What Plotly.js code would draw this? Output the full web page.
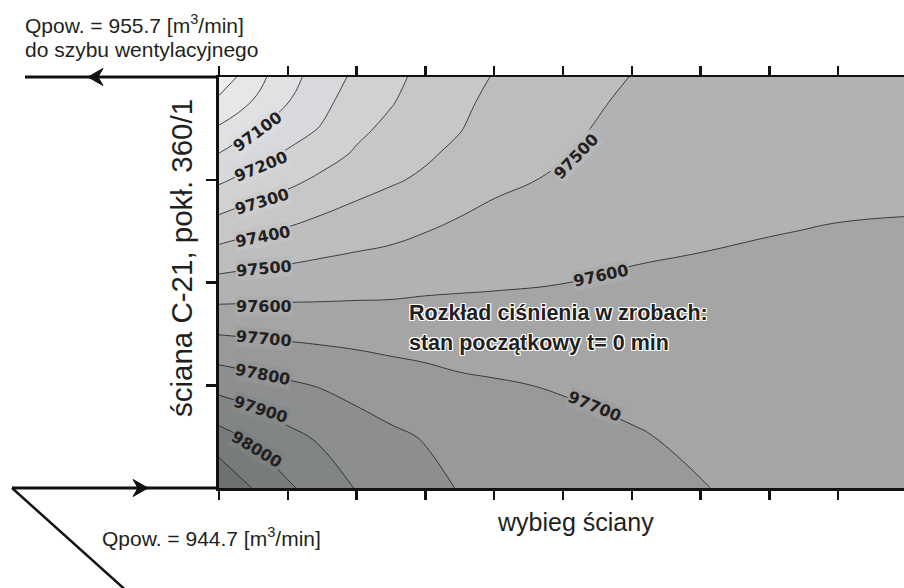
<!DOCTYPE html>
<html>
<head>
<meta charset="utf-8">
<script src="https://cdn.plot.ly/plotly-3.0.1.min.js"></script>
<style>html,body{margin:0;padding:0;background:#fff;}#chart{width:904px;height:588px;}</style>
</head>
<body>
<div id="chart"></div>
<script>
// ---- data: grid positions (distance along face / across face) ----
const gridX = [0, 0.5, 1, 1.5, 2, 2.5, 3, 3.5, 4, 5, 6, 7, 8, 9, 10];
const gridY = [0, 0.5, 1, 1.5, 2, 2.5, 3, 3.25, 3.5, 3.75, 4];

// pressure [Pa], one row per gridY value
const pressureY000 = [98195, 98095, 98015, 97951, 97895, 97862, 97828, 97795, 97784, 97758, 97731, 97702, 97688, 97674, 97660];
const pressureY050 = [98035, 97980, 97923, 97885, 97845, 97816, 97794, 97755, 97746, 97727, 97707, 97685, 97670, 97660, 97649];
const pressureY100 = [97868, 97840, 97814, 97793, 97769, 97748, 97731, 97715, 97708, 97693, 97677, 97661, 97652, 97646, 97638];
const pressureY150 = [97697, 97688, 97681, 97674, 97669, 97663, 97660, 97656, 97651, 97646, 97643, 97638, 97634, 97631, 97626];
const pressureY200 = [97529, 97540, 97549, 97556, 97563, 97569, 97579, 97585, 97590, 97599, 97609, 97614, 97616, 97617, 97615];
const pressureY250 = [97355, 97388, 97411, 97438, 97458, 97475, 97498, 97518, 97531, 97555, 97581, 97590, 97598, 97603, 97604];
const pressureY300 = [97184, 97235, 97275, 97319, 97360, 97389, 97415, 97453, 97482, 97511, 97555, 97566, 97576, 97585, 97590];
const pressureY325 = [97103, 97164, 97212, 97262, 97312, 97356, 97387, 97421, 97463, 97496, 97542, 97554, 97565, 97575, 97583];
const pressureY350 = [97011, 97093, 97155, 97207, 97278, 97323, 97366, 97395, 97444, 97481, 97529, 97541, 97553, 97565, 97575];
const pressureY375 = [96924, 97007, 97099, 97176, 97249, 97294, 97346, 97380, 97424, 97469, 97516, 97529, 97542, 97556, 97568];
const pressureY400 = [96838, 96959, 97065, 97149, 97220, 97277, 97325, 97366, 97405, 97456, 97502, 97517, 97531, 97546, 97560];

// contour levels
const levelStart = 96900, levelEnd = 98100, levelStep = 100;

// contour label values
const labelValues = [97100, 97200, 97300, 97400, 97500, 97600, 97700, 97800, 97900, 98000, 97500, 97600, 97700];

// texts
const inflowText = 'Qpow. = 944.7 [m<sup>3</sup>/min]';
const outflowText = 'Qpow. = 955.7 [m<sup>3</sup>/min]';
const outflowText2 = 'do szybu wentylacyjnego';
const xTitle = 'wybieg ściany';
const yTitle = 'ściana C-21, pokł. 360/1';
const noteLine1 = 'Rozkład ciśnienia w zrobach:';
const noteLine2 = 'stan początkowy t= 0 min';

// ---- styles / layout ----
const bandColors = ['#eeeeef', '#e7e7e9', '#e0e1e3', '#d8d9dc', '#d1d1d2', '#c7c7c8', '#bdbdbe',
                    '#b1b2b4', '#a5a5a6', '#99999a', '#8d8e8f', '#818586', '#777b7c', '#6c7172'];
const nb = bandColors.length;
const colorscale = bandColors.map((c, i) => [i / (nb - 1), c]);

const W = 904, H = 588, L = 219, T = 77, B = 488;
const R = W;
const px2p = px => (px - L) / (R - L);
const py2p = py => (B - py) / (B - T);

// label placement (pixel centre, angle) — layout only
const labelPlace = [
  [258, 132, -36], [261, 166, -22], [262, 201, -17], [263, 236, -11], [264, 268, -5],
  [264, 306, 0], [264, 338, 5], [263, 374, 11], [261, 409, 18], [257, 449, 31],
  [576, 156, -46], [601, 275, -12], [595, 406, 22]
];
function mix(a, b) {
  const h = s => [1, 3, 5].map(i => parseInt(s.substr(i, 2), 16));
  const A = h(a), Bc = h(b);
  return 'rgb(' + A.map((v, i) => Math.round((v + Bc[i]) / 2)).join(',') + ')';
}
function bandColorFor(v) {
  const k = Math.round((v - levelStart) / levelStep);
  return mix(bandColors[k], bandColors[k + 1]);
}

const trace = {
  type: 'contour',
  x: gridX,
  y: gridY,
  z: [pressureY000, pressureY050, pressureY100, pressureY150, pressureY200, pressureY250,
      pressureY300, pressureY325, pressureY350, pressureY375, pressureY400],
  autocontour: false,
  contours: { start: levelStart, end: levelEnd, size: levelStep, coloring: 'fill', showlabels: false },
  colorscale: colorscale,
  showscale: false,
  line: { color: '#1e1e1e', width: 0.8, smoothing: 1.3 },
  hoverinfo: 'skip'
};

const font = 'Liberation Sans, Arial, Helvetica, sans-serif';
const ink = '#231f20';

const annotations = [];
labelValues.forEach((v, i) => {
  const p = labelPlace[i];
  annotations.push({
    xref: 'paper', yref: 'paper', x: px2p(p[0]), y: py2p(p[1]),
    xanchor: 'center', yanchor: 'middle', showarrow: false,
    text: String(v), textangle: p[2],
    font: { family: 'DejaVu Sans, sans-serif', size: 16, color: ink, weight: 'bold' },
    bgcolor: bandColorFor(v), borderpad: 0
  });
});
const txt = (text, x, y, opts) => Object.assign({
  xref: 'paper', yref: 'paper', x: px2p(x), y: py2p(y), showarrow: false,
  text: text, xanchor: 'left', yanchor: 'middle',
  font: { family: font, size: 21, color: ink }
}, opts || {});
annotations.push(txt(outflowText, 23, 24));
annotations.push(txt(outflowText2, 23, 49));
annotations.push(txt(inflowText, 100, 537));
annotations.push(txt(xTitle, 575, 522, { xanchor: 'center', font: { family: font, size: 25, color: ink } }));
annotations.push(txt(yTitle, 181, 258, { xanchor: 'center', textangle: -90, font: { family: font, size: 29.5, color: ink } }));
const halo = '1px 1px 0 #fff, -1px -1px 0 #fff, 1px -1px 0 #fff, -1px 1px 0 #fff, 0 1px 0 #fff, 0 -1px 0 #fff, 1px 0 0 #fff, -1px 0 0 #fff';
annotations.push(txt(noteLine1, 407, 313, { font: { family: font, size: 21.5, color: ink, weight: 'bold', shadow: halo } }));
annotations.push(txt(noteLine2, 407, 343, { font: { family: font, size: 21.5, color: ink, weight: 'bold', shadow: halo } }));

const lineStyle = { color: '#111', width: 3 };
const shapes = [
  { type: 'line', xref: 'paper', yref: 'paper', x0: px2p(25), x1: px2p(219), y0: py2p(77), y1: py2p(77), line: lineStyle },
  { type: 'line', xref: 'paper', yref: 'paper', x0: px2p(12), x1: px2p(219), y0: py2p(488), y1: py2p(488), line: lineStyle },
  { type: 'line', xref: 'paper', yref: 'paper', x0: px2p(12), x1: px2p(130), y0: py2p(488), y1: py2p(594), line: { color: '#111', width: 2.5 } },
  { type: 'path', xref: 'paper', yref: 'paper', fillcolor: '#111', line: { color: '#111', width: 1 },
    path: 'M' + px2p(88) + ',' + py2p(77) + ' L' + px2p(103) + ',' + py2p(68.5) + ' L' + px2p(98) + ',' + py2p(77) +
          ' L' + px2p(103) + ',' + py2p(85.5) + ' Z' },
  { type: 'path', xref: 'paper', yref: 'paper', fillcolor: '#111', line: { color: '#111', width: 1 },
    path: 'M' + px2p(148) + ',' + py2p(488) + ' L' + px2p(133) + ',' + py2p(479.5) + ' L' + px2p(138) + ',' + py2p(488) +
          ' L' + px2p(133) + ',' + py2p(496.5) + ' Z' }
];

const layout = {
  width: W, height: H,
  margin: { l: L, r: W - R, t: T, b: H - B, pad: 0 },
  paper_bgcolor: '#ffffff', plot_bgcolor: '#ffffff',
  showlegend: false,
  xaxis: {
    range: [0, (R - L) / 68.8], tick0: 0, dtick: 1, ticks: 'outside', ticklen: 9, tickwidth: 2.5, tickcolor: '#111',
    showticklabels: false, showline: true, linewidth: 2.5, linecolor: '#111', mirror: 'ticks',
    showgrid: false, zeroline: false
  },
  yaxis: {
    range: [0, 4], tick0: 0, dtick: 1, ticks: 'outside', ticklen: 10, tickwidth: 2.5, tickcolor: '#111',
    showticklabels: false, showline: true, linewidth: 3, linecolor: '#111', mirror: false,
    showgrid: false, zeroline: false
  },
  annotations: annotations,
  shapes: shapes
};

Plotly.newPlot('chart', [trace], layout, { staticPlot: true, displayModeBar: false });
</script>
</body>
</html>
